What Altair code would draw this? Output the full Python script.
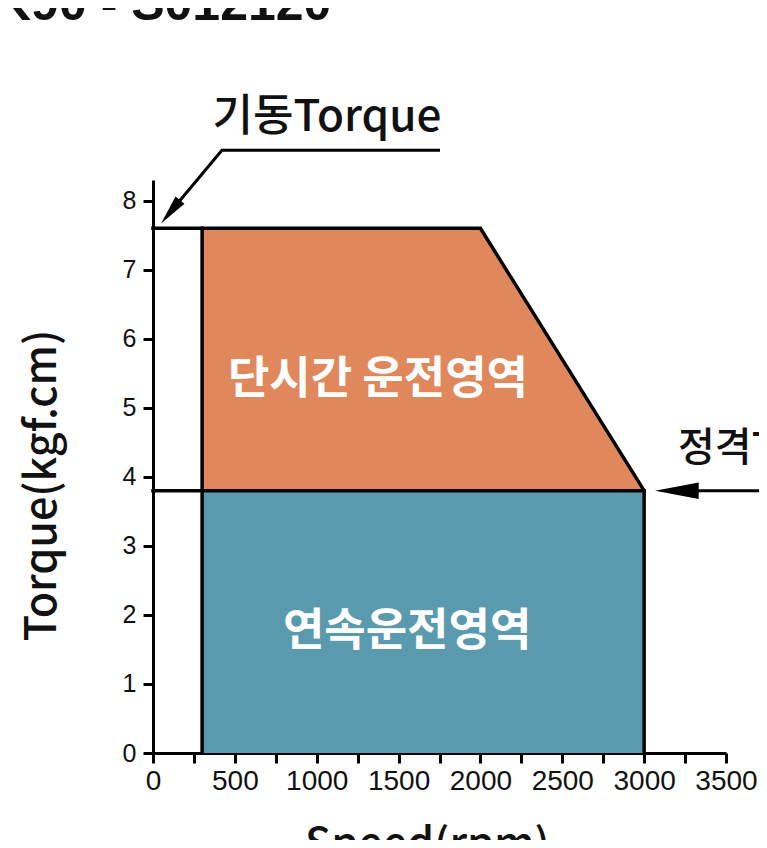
import altair as alt
import pandas as pd

# ---- data ----
speed_ticks = list(range(0, 3501, 250))
torque_ticks = [0, 1, 2, 3, 4, 5, 6, 7, 8]

start_speed = 300
rated_speed = 3000
knee_speed = 2000
start_torque = 7.6
rated_torque = 3.8

# short-time zone (orange) polygon
short_x = [start_speed, knee_speed, rated_speed]
short_top = [start_torque, start_torque, rated_torque]
# continuous zone (blue)
cont_x = [start_speed]
cont_x2 = [rated_speed]
cont_top = [rated_torque]

# outline segments
seg_id = ["a", "a", "a", "a", "b", "b", "c", "c"]
seg_x = [0, knee_speed, rated_speed, rated_speed, 0, rated_speed, start_speed, start_speed]
seg_y = [start_torque, start_torque, rated_torque, 0, rated_torque, rated_torque, 0, start_torque]
seg_ord = [0, 1, 2, 3, 0, 1, 0, 1]

# annotation leader lines (data units)
lead_id = ["s", "s", "s", "r", "r"]
lead_x = [1753, 421, 107, 3800, 3150]
lead_y = [8.73, 8.73, 7.84, 3.8, 3.8]
lead_ord = [0, 1, 2, 0, 1]

# arrow heads
head_x = [107, 3200]
head_y = [7.84, 3.8]
head_angle = [219, 270]
head_size = [900, 1900]

# texts
zone_labels = ["단시간 운전영역", "연속운전영역"]
zone_x = [1374, 1552]
zone_y = [5.4, 1.75]

note_labels = ["기동Torque", "정격Torque"]
note_x = [1063, 3207]
note_y = [9.2, 4.4]
note_align = ["center", "left"]

title_text = "K90 - S012120"

ORANGE = "#E0885B"
BLUE = "#5A9AAE"
KFONT = "Noto Sans CJK KR"
NFONT = "Liberation Sans"

xs = alt.Scale(domain=[0, 3500], nice=False, zero=False)
ys = alt.Scale(domain=[0, 8.3], nice=False, zero=False)

x_axis = alt.Axis(
    values=speed_ticks,
    labelExpr="datum.value % 500 == 0 ? datum.label : ''",
    format="d",
    grid=False,
    domainColor="black", domainWidth=3,
    tickColor="black", tickWidth=3, tickSize=10,
    labelFont=NFONT, labelFontSize=28, labelColor="#111111", labelPadding=4,
    labelOverlap=False, labelFlush=False,
    title="Speed(rpm)", titleFont=KFONT, titleFontSize=43, titleFontWeight=500,
    titleColor="#111111", titleX=274, titleY=105, titleAlign="center",
    titleBaseline="alphabetic",
)
y_axis = alt.Axis(
    values=torque_ticks,
    format="d",
    grid=False,
    domainColor="black", domainWidth=3,
    tickColor="black", tickWidth=3, tickSize=10,
    labelFont=NFONT, labelFontSize=25, labelColor="#111111", labelPadding=7,
    labelOverlap=False, labelFlush=False,
    title="Torque(kgf.cm)", titleFont=KFONT, titleFontSize=43, titleFontWeight=500,
    titleColor="#111111", titleAngle=270, titleX=-111, titleY=305,
    titleAlign="center", titleBaseline="middle",
)

short_df = pd.DataFrame({"x": short_x, "y": short_top, "y0": [rated_torque] * len(short_x)})
cont_df = pd.DataFrame({"x": cont_x, "x2": cont_x2, "y": cont_top, "y0": [0]})
seg_df = pd.DataFrame({"id": seg_id, "x": seg_x, "y": seg_y, "o": seg_ord})
lead_df = pd.DataFrame({"id": lead_id, "x": lead_x, "y": lead_y, "o": lead_ord})
head_df = pd.DataFrame({"x": head_x, "y": head_y, "a": head_angle, "s": head_size})
zone_df = pd.DataFrame({"t": zone_labels, "x": zone_x, "y": zone_y})
note_df = pd.DataFrame({"t": note_labels, "x": note_x, "y": note_y, "al": note_align})
title_df = pd.DataFrame({"t": [title_text], "x": [-965], "y": [10.62]})

base_x = alt.X("x:Q", scale=xs, axis=x_axis)
base_y = alt.Y("y:Q", scale=ys, axis=y_axis)

short_area = alt.Chart(short_df).mark_area(color=ORANGE, opacity=1).encode(
    x=base_x, y=base_y, y2="y0:Q"
)
cont_rect = alt.Chart(cont_df).mark_rect(color=BLUE).encode(
    x="x:Q", x2="x2:Q", y="y:Q", y2="y0:Q"
)
outline = alt.Chart(seg_df).mark_line(
    color="black", strokeWidth=3.5, strokeJoin="miter", strokeCap="square"
).encode(x="x:Q", y="y:Q", detail="id:N", order="o:Q")
leaders = alt.Chart(lead_df).mark_line(
    color="black", strokeWidth=3, strokeJoin="miter"
).encode(x="x:Q", y="y:Q", detail="id:N", order="o:Q")
heads = alt.Chart(head_df).mark_point(
    shape="M0,-1L0.38,1L-0.38,1Z", filled=True, color="black", opacity=1
).encode(
    x="x:Q", y="y:Q",
    angle=alt.Angle("a:Q", scale=None),
    size=alt.Size("s:Q", scale=None),
)
zones = alt.Chart(zone_df).mark_text(
    font=KFONT, fontSize=45, fontWeight="bold", color="white", align="center", baseline="middle"
).encode(x="x:Q", y="y:Q", text="t:N")
notes_c = alt.Chart(note_df[note_df.al == "center"]).mark_text(
    font=KFONT, fontSize=44, fontWeight=500, color="#111111", align="center", baseline="middle"
).encode(x="x:Q", y="y:Q", text="t:N")
notes_l = alt.Chart(note_df[note_df.al == "left"]).mark_text(
    font=KFONT, fontSize=40, fontWeight=500, color="#111111", align="left", baseline="middle"
).encode(x="x:Q", y="y:Q", text="t:N")
title_t = alt.Chart(title_df).mark_text(
    font=NFONT, fontSize=50, fontWeight="bold", color="#111111", align="left", baseline="alphabetic"
).encode(x="x:Q", y="y:Q", text="t:N")

chart = alt.layer(
    short_area, cont_rect, outline, leaders, heads, zones, notes_c, notes_l, title_t
).properties(
    width=573, height=573,
    autosize=alt.AutoSizeParams(type="none"),
    padding={"left": 145, "top": 172, "right": 33, "bottom": 87},
).configure_view(stroke=None)

chart.save("out.html", embed_options={"renderer": "svg", "actions": False})
